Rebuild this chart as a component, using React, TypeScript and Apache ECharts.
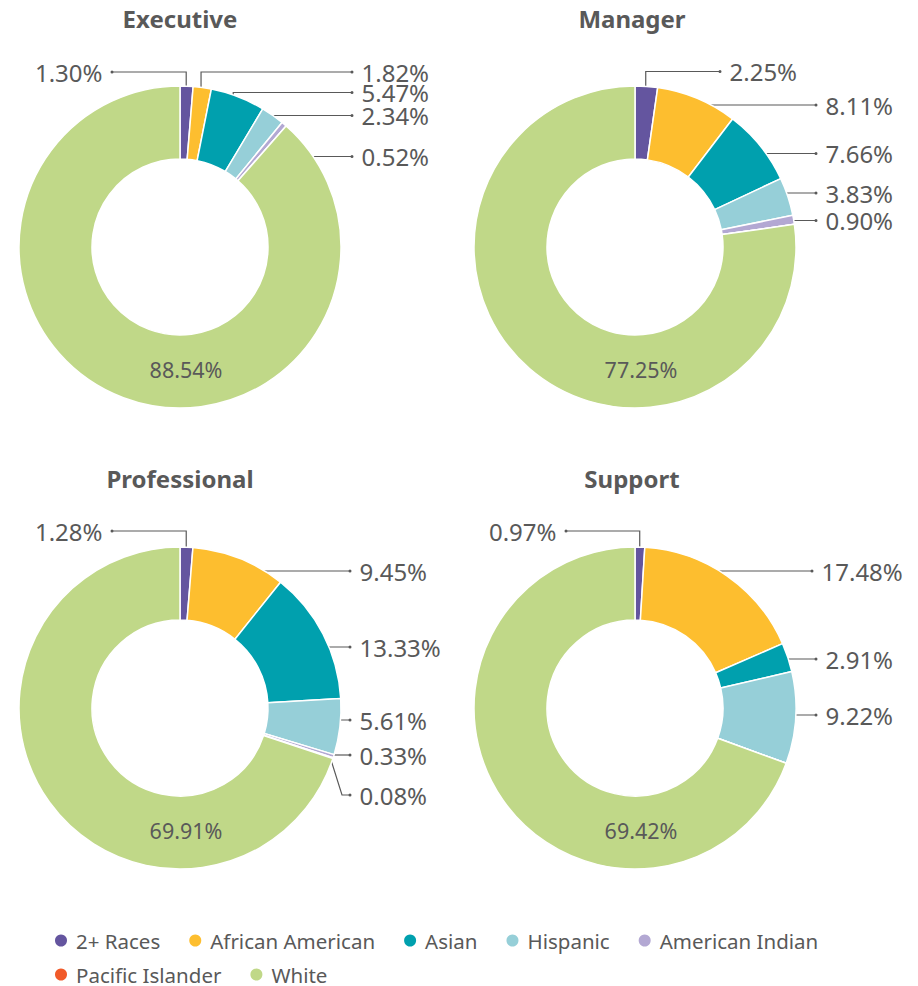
import React, { useEffect, useRef } from 'react';
import * as echarts from 'echarts';

// ---- data ----
const categories = ['2+ Races', 'African American', 'Asian', 'Hispanic', 'American Indian', 'Pacific Islander', 'White'];
const groups = ['Executive', 'Manager', 'Professional', 'Support'];
const executive = [1.30, 1.82, 5.47, 2.34, 0.52, 0, 88.54];
const manager = [2.25, 8.11, 7.66, 3.83, 0.90, 0, 77.25];
const professional = [1.28, 9.45, 13.33, 5.61, 0.33, 0.08, 69.91];
const support = [0.97, 17.48, 2.91, 9.22, 0, 0, 69.42];
const seriesValues = [executive, manager, professional, support];

// ---- styles / layout ----
const colors = ['#64559F', '#FDBE2F', '#00A0AE', '#96CFD8', '#B3A8D3', '#F15A29', '#C0D888'];
const TEXT = '#595959';
const FONT = '"Noto Sans", sans-serif';
const INNER = 88;
const OUTER = 161;
const LABEL_SIZE = 24;

type LabelCfg = { side: 'l' | 'r'; ex: number; y: number; r: number; mode: 'v' | 'h' | 'e'; bx?: number };
type Panel = { cx: number; cy: number; tx: number; ty: number; labels: Record<number, LabelCfg> };

const panels: Panel[] = [
  {
    cx: 180, cy: 247, tx: 180, ty: 6,
    labels: {
      0: { side: 'l', ex: 112, y: 72, r: 152, mode: 'v' },
      1: { side: 'r', ex: 352, y: 72, r: 152, mode: 'v' },
      2: { side: 'r', ex: 352, y: 92.5, r: 148, mode: 'v' },
      3: { side: 'r', ex: 352, y: 115.5, r: 150, mode: 'v' },
      4: { side: 'r', ex: 352, y: 156.5, r: 140, mode: 'e', bx: 283 },
    },
  },
  {
    cx: 635, cy: 247, tx: 632, ty: 6,
    labels: {
      0: { side: 'r', ex: 720, y: 71.5, r: 152, mode: 'v' },
      1: { side: 'r', ex: 816, y: 105, r: 130, mode: 'v' },
      2: { side: 'r', ex: 816, y: 153.5, r: 137, mode: 'h' },
      3: { side: 'r', ex: 816, y: 193, r: 150, mode: 'h' },
      4: { side: 'r', ex: 816, y: 220.5, r: 143, mode: 'h' },
    },
  },
  {
    cx: 180, cy: 708, tx: 180, ty: 466,
    labels: {
      0: { side: 'l', ex: 112, y: 531, r: 155, mode: 'v' },
      1: { side: 'r', ex: 350, y: 571, r: 145, mode: 'h' },
      2: { side: 'r', ex: 350, y: 647, r: 119, mode: 'h' },
      3: { side: 'r', ex: 350, y: 720, r: 128, mode: 'h' },
      4: { side: 'r', ex: 350, y: 755, r: 158, mode: 'h' },
      5: { side: 'r', ex: 350, y: 795, r: 158, mode: 'e', bx: 342 },
    },
  },
  {
    cx: 635, cy: 708, tx: 632, ty: 466,
    labels: {
      0: { side: 'l', ex: 566, y: 531, r: 155, mode: 'v' },
      1: { side: 'r', ex: 812, y: 571, r: 145, mode: 'h' },
      2: { side: 'r', ex: 816, y: 659, r: 148, mode: 'h' },
      3: { side: 'r', ex: 816, y: 715, r: 140, mode: 'h' },
    },
  },
];

function midAngle(values: number[], i: number): number {
  const total = values.reduce((a, b) => a + b, 0);
  let before = 0;
  for (let k = 0; k < i; k++) before += values[k];
  return ((before + values[i] / 2) / total) * Math.PI * 2;
}

function polar(cx: number, cy: number, r: number, a: number): [number, number] {
  return [cx + r * Math.sin(a), cy - r * Math.cos(a)];
}

function buildSeries(values: number[], panel: Panel, name: string) {
  const { cx, cy, labels } = panel;
  return {
    type: 'pie',
    name,
    center: [cx, cy],
    radius: [INNER, OUTER],
    startAngle: 90,
    clockwise: true,
    avoidLabelOverlap: false,
    silent: true,
    itemStyle: { borderColor: '#ffffff', borderWidth: 1.5 },
    emphasis: { disabled: true },
    label: {
      show: true,
      position: 'outside',
      fontFamily: FONT,
      fontSize: LABEL_SIZE,
      lineHeight: 19,
      color: TEXT,
      rich: {
        dot: { width: 3, height: 3, backgroundColor: TEXT, borderRadius: 1.5 },
        txtR: { fontFamily: FONT, fontSize: LABEL_SIZE, lineHeight: 19, color: TEXT, padding: [0, 0, 0, 8] },
        txtL: { fontFamily: FONT, fontSize: LABEL_SIZE, lineHeight: 19, color: TEXT, padding: [0, 8, 0, 0] },
      },
    },
    labelLine: { show: true, smooth: false, lineStyle: { color: TEXT, width: 1.2 } },
    labelLayout: (params: any) => {
      const i = params.dataIndex;
      if (i === 6) {
        return { x: cx + 6, y: cy + 122, align: 'center', verticalAlign: 'middle' };
      }
      const c = labels[i];
      if (!c) return {};
      const a = midAngle(values, i);
      let pts: number[][];
      if (c.mode === 'h') {
        const dy = c.y - cy;
        const sgn = c.side === 'r' ? 1 : -1;
        const ax = Math.abs(dy) < c.r ? cx + sgn * Math.sqrt(c.r * c.r - dy * dy) : polar(cx, cy, c.r, a)[0];
        pts = [[ax, c.y], [c.ex, c.y]];
      } else {
        const [ax, ay] = polar(cx, cy, c.r, a);
        const bx = c.mode === 'e' && c.bx !== undefined ? c.bx : ax;
        pts = [[ax, ay], [bx, c.y], [c.ex, c.y]];
      }
      return {
        x: c.side === 'r' ? c.ex - 1.5 : c.ex + 1.5,
        y: c.y,
        align: c.side === 'r' ? 'left' : 'right',
        verticalAlign: 'middle',
        labelLinePoints: pts,
      };
    },
    data: categories.map((cat, i) => {
      const value = values[i];
      const isWhite = i === 6;
      const cfg = labels[i];
      const txt = value.toFixed(2) + '%';
      if (isWhite) {
        return {
          name: cat,
          value,
          itemStyle: { color: colors[i] },
          label: { show: true, formatter: () => txt, fontSize: 21.5, lineHeight: 20, color: TEXT, fontFamily: FONT },
          labelLine: { show: false },
        };
      }
      const show = !!cfg && value > 0;
      return {
        name: cat,
        value,
        itemStyle: { color: colors[i] },
        label: {
          show,
          formatter: () => (cfg && cfg.side === 'l' ? `{txtL|${txt}}{dot|}` : `{dot|}{txtR|${txt}}`),
        },
        labelLine: { show },
      };
    }),
  };
}

const legendCommon = {
  icon: 'circle',
  itemWidth: 14,
  itemHeight: 14,
  itemGap: 27,
  padding: 0,
  selectedMode: false,
  textStyle: { fontSize: 20.5, lineHeight: 16, color: TEXT, fontFamily: FONT, padding: [0, 0, 0, 3] },
};

export default function App() {
  const ref = useRef<HTMLDivElement>(null);
  useEffect(() => {
    if (!ref.current) return;
    const chart = echarts.init(ref.current, undefined, { renderer: 'svg' });
    chart.setOption({
      animation: false,
      backgroundColor: '#ffffff',
      color: colors,
      title: groups.map((g, k) => ({
        text: g,
        left: panels[k].tx,
        top: panels[k].ty,
        textAlign: 'center',
        padding: 0,
        textStyle: { fontSize: 24, fontWeight: 'bold', color: TEXT, fontFamily: FONT },
      })),
      legend: [
        { ...legendCommon, data: categories.slice(0, 5), left: 53, top: 930 },
        { ...legendCommon, data: categories.slice(5), left: 53, top: 964 },
      ],
      series: seriesValues.map((v, k) => buildSeries(v, panels[k], groups[k])),
    });
    return () => chart.dispose();
  }, []);
  return (
    <div
      ref={ref}
      style={{ position: 'absolute', left: 0, top: 0, width: 918, height: 986, background: '#fff' }}
    />
  );
}
